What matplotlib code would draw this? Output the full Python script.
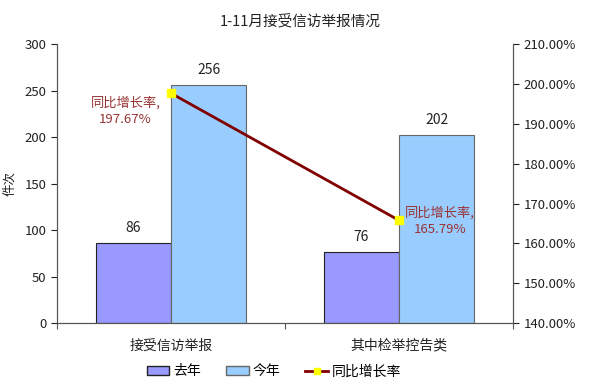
import numpy as np
import matplotlib.pyplot as plt
from matplotlib.lines import Line2D
from matplotlib.patches import Patch

plt.rcParams['font.family'] = ['Noto Sans CJK SC', 'DejaVu Sans']

# 数据
categories = ['接受信访举报', '其中检举控告类']
last_year = [86, 76]
this_year = [256, 202]
growth = [197.67, 165.79]
right_ticks = [140, 150, 160, 170, 180, 190, 200, 210]

fig = plt.figure(figsize=(6, 3.87), dpi=100)
ax = fig.add_axes([0.095, 0.165, 0.76, 0.721])
x = np.arange(len(categories))
w = 0.33

b1 = ax.bar(x - w/2, last_year, w, color='#9999ff', edgecolor='#222222', linewidth=0.8)
b2 = ax.bar(x + w/2, this_year, w, color='#99ccff', edgecolor='#666666', linewidth=0.8)
for bars, vals in [(b1, last_year), (b2, this_year)]:
    for r, v in zip(bars, vals):
        ax.text(r.get_x() + r.get_width()/2, v + 9, str(v), ha='center', va='bottom',
                fontsize=10, color='#222222')

ax.set_xlim(-0.5, 1.5)
ax.set_ylim(0, 300)
ax.set_yticks(range(0, 301, 50))
ax.set_xticks([-0.5, 0.5, 1.5], minor=False)
ax.set_xticklabels([])
ax.set_xticks(x, minor=True)
ax.set_xticklabels(categories, minor=True, fontsize=10, color='#222222')
ax.tick_params(axis='x', which='minor', length=0, pad=11)
ax.tick_params(axis='x', which='major', length=4, color='#555555')
ax.tick_params(axis='y', length=4, labelsize=9.5, colors='#222222')
ax.set_ylabel('件次', fontsize=9, color='#222222', labelpad=6)
ax.spines['top'].set_visible(False)
for s in ax.spines.values():
    s.set_color('#555555')

ax2 = ax.twinx()
ax2.plot(x, growth, color='#800000', linewidth=2, marker='s', markersize=6,
         markerfacecolor='#ffff00', markeredgecolor='#ffff00', zorder=5)
ax2.set_ylim(140, 210)
ax2.set_yticks(right_ticks)
ax2.set_yticklabels(['%.2f%%' % t for t in right_ticks])
ax2.tick_params(axis='y', length=4, labelsize=9.5, colors='#222222')
ax2.spines['top'].set_visible(False)
for s in ax2.spines.values():
    s.set_color('#555555')

ax2.text(-0.2, 193.2, '同比增长率,\n%.2f%%' % growth[0], ha='center', va='center',
         fontsize=9.5, color='#993333', linespacing=1.4)
ax2.text(1.18, 165.6, '同比增长率,\n%.2f%%' % growth[1], ha='center', va='center',
         fontsize=9.5, color='#993333', linespacing=1.4)

fig.text(0.5, 0.935, '1-11月接受信访举报情况', ha='center', fontsize=10.5, color='#222222')

handles = [Patch(facecolor='#9999ff', edgecolor='#222222'),
           Patch(facecolor='#99ccff', edgecolor='#666666'),
           Line2D([], [], color='#800000', linewidth=2, marker='s', markersize=5,
                  markerfacecolor='#ffff00', markeredgecolor='#ffff00')]
fig.legend(handles, ['去年', '今年', '同比增长率'], loc='lower center', ncol=3,
           bbox_to_anchor=(0.457, -0.01), frameon=False, fontsize=10, handlelength=1.6,
           handletextpad=0.3, columnspacing=1.8)

fig.savefig('out.png')
